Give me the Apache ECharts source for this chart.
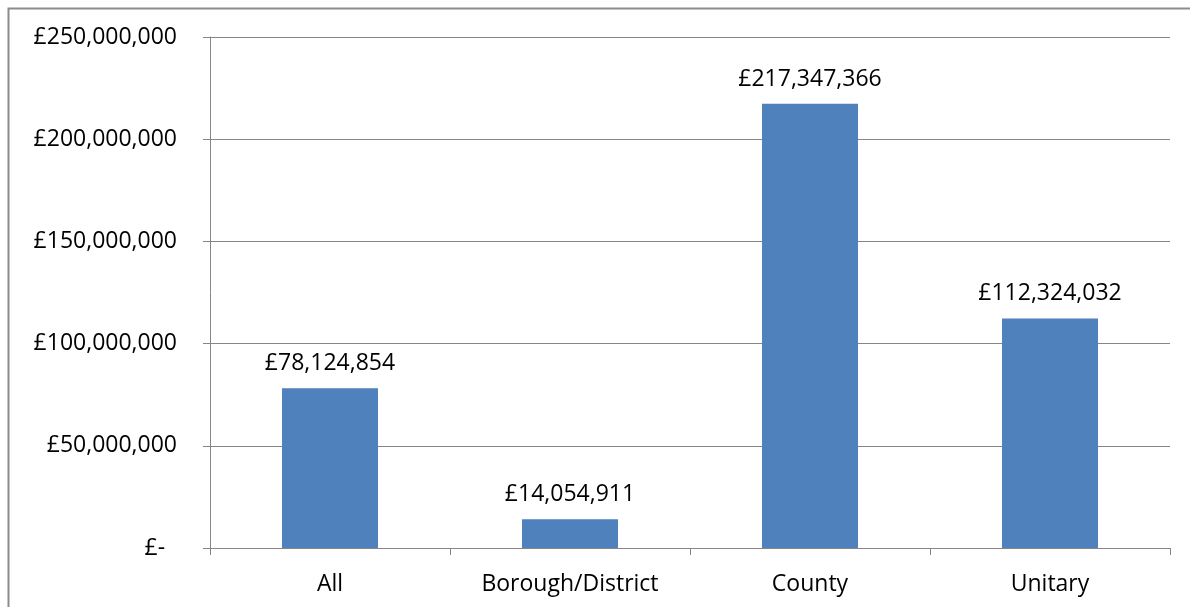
<!DOCTYPE html>
<html>
<head>
<meta charset="utf-8">
<script src="https://cdn.jsdelivr.net/npm/echarts@6/dist/echarts.min.js"></script>
<style>
  html, body { margin: 0; padding: 0; background: #fff; }
  #chart { width: 1190px; height: 607px; }
</style>
</head>
<body>
<div id="chart"></div>
<script>
// Spending by council type
const categories = ['All', 'Borough/District', 'County', 'Unitary'];
const spend = [78124854, 14054911, 217347366, 112324032];
const yTicks = [0, 50000000, 100000000, 150000000, 200000000, 250000000];

const FONT = '"Open Sans", "Noto Sans", sans-serif';
const GREY = '#868686';

// Accounting-style currency: zero shows as a dash, padded like the other amounts
function pounds(v) {
  if (v === 0) return '£-  ';
  return '£' + Math.round(v).toLocaleString('en-GB');
}

const chart = echarts.init(document.getElementById('chart'), null, { renderer: 'canvas' });
chart.setOption({
  animation: false,
  backgroundColor: '#fff',
  graphic: [{
    type: 'rect',
    shape: { x: 8.5, y: 8.5, width: 1300, height: 700 },
    style: { fill: 'none', stroke: '#8c8c8c', lineWidth: 2 },
    silent: true
  }],
  grid: { left: 210, right: 20, top: 37, bottom: 59, containLabel: false },
  xAxis: {
    type: 'category',
    data: categories,
    axisLine: { lineStyle: { color: GREY, width: 1 } },
    axisTick: { show: true, length: 7, alignWithLabel: false, lineStyle: { color: GREY } },
    axisLabel: { color: '#000', fontFamily: FONT, fontSize: 23, margin: 25 }
  },
  yAxis: {
    type: 'value',
    min: yTicks[0],
    max: yTicks[yTicks.length - 1],
    interval: yTicks[1] - yTicks[0],
    axisLine: { show: true, lineStyle: { color: GREY, width: 1 } },
    axisTick: { show: true, length: 7, lineStyle: { color: GREY } },
    splitLine: { show: true, lineStyle: { color: GREY, width: 1 } },
    axisLabel: {
      color: '#000', fontFamily: FONT, fontSize: 23, margin: 33,
      padding: [6, 0, 0, 0],
      formatter: pounds
    }
  },
  series: [{
    type: 'bar',
    data: spend,
    barWidth: '40%',
    itemStyle: { color: '#4f81bd' },
    label: {
      show: true,
      position: 'top',
      distance: 13,
      color: '#000',
      fontFamily: FONT,
      fontSize: 23,
      formatter: p => pounds(p.value)
    }
  }]
});
</script>
</body>
</html>
